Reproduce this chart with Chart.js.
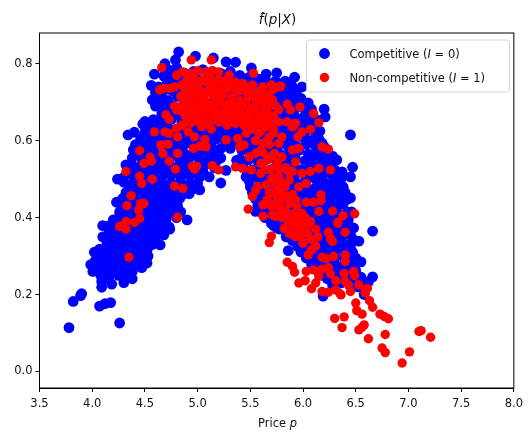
<!DOCTYPE html>
<html>
<head>
<meta charset="utf-8">
<title>f(p|X)</title>
<script src="https://cdn.jsdelivr.net/npm/chart.js@4"></script>
<style>
    html, body { margin: 0; padding: 0; background: #fff; }
    canvas { display: block; }
</style>
</head>
<body>
<canvas id="priceChart" width="528" height="439"></canvas>
<script>
// Ticks and labels
const xTicks = [3.5, 4.0, 4.5, 5.0, 5.5, 6.0, 6.5, 7.0, 7.5, 8.0];
const yTicks = [0.0, 0.2, 0.4, 0.6, 0.8];
const seriesNames = ['Competitive (I = 0)', 'Non-competitive (I = 1)'];

// Blue points, [price, f]
const competitive = [
    // isolated ones and the outline
    [3.78,.114],[3.82,.182],[3.89,.197],[3.90,.202],[4.07,.17],[4.12,.176],[4.175,.179],[4.26,.126],
    [4.09,.219],[4.09,.234],[4.185,.227],[4.30,.231],[4.38,.241],[4.006,.26],[3.986,.278],[4.02,.31],
    [4.07,.303],[4.10,.379],[4.10,.35],[4.645,.329],[4.735,.37],[4.90,.394],[4.52,.282],
    [4.82,.831],[4.79,.81],[4.98,.82],[5.15,.815],[5.27,.805],[5.36,.804],[5.51,.789],[5.65,.773],[5.75,.776],
    [5.92,.765],[5.99,.74],[6.05,.698],[6.20,.682],[6.21,.662],[6.16,.625],[6.45,.615],[6.18,.594],
    [6.32,.55],[6.47,.531],[6.45,.506],[6.37,.519],[6.38,.48],[6.45,.451],[6.32,.446],[6.46,.415],
    [6.48,.373],[6.66,.365],[6.53,.339],[6.44,.329],[6.50,.295],[6.55,.285],[6.66,.246],[6.62,.233],
    [6.56,.23],[6.58,.2],[6.19,.196],[6.23,.241],[5.86,.314],[5.98,.311],[6.15,.285],[6.34,.272],
    [4.69,.80],[4.59,.773],[4.56,.744],[4.57,.706],[4.61,.693],[4.48,.643],[4.34,.615],[4.50,.60],
    [4.39,.576],[4.32,.537],[4.24,.50],[4.43,.485],[4.37,.464],[4.23,.44],[4.26,.415],[4.20,.394],
    [5.22,.49],[5.27,.523],[5.11,.506],[5.02,.472],[4.90,.472],[4.73,.376],[5.37,.549],[5.46,.506],
    [5.55,.416],[5.72,.38],[5.75,.373],[5.84,.35],
    // top of the arch
    [4.72,.785],[4.80,.79],[4.88,.775],[4.96,.78],[5.05,.785],[5.14,.78],[5.22,.775],[5.31,.78],[5.40,.77],[5.49,.765],[5.58,.76],[5.66,.752],[5.74,.755],[5.83,.755],[5.90,.74],
    [4.63,.74],[4.71,.75],[4.80,.745],[4.88,.75],[4.97,.74],[5.05,.745],[5.14,.75],[5.23,.74],[5.32,.745],[5.41,.74],[5.50,.735],[5.58,.73],[5.67,.735],[5.76,.725],[5.85,.73],[5.94,.72],
    [4.64,.71],[4.72,.705],[4.81,.715],[4.90,.705],[4.98,.71],[5.07,.70],[5.16,.71],[5.25,.705],[5.34,.70],[5.43,.71],[5.52,.70],[5.61,.705],[5.70,.695],[5.79,.70],[5.88,.69],[5.97,.70],
    [4.66,.67],[4.74,.675],[4.83,.665],[4.92,.675],[5.01,.67],[5.10,.665],[5.19,.675],[5.28,.665],[5.37,.67],[5.46,.665],[5.55,.675],[5.64,.665],[5.73,.67],[5.82,.66],[5.91,.67],[6.00,.66],[6.09,.665],
    [4.54,.64],[4.62,.635],[4.71,.64],[4.80,.63],[4.89,.64],[4.98,.635],[5.07,.63],[5.16,.64],[5.25,.635],[5.34,.63],[5.43,.64],[5.52,.63],[5.61,.635],[5.70,.64],[5.79,.63],[5.88,.635],[5.97,.63],[6.06,.635],[6.12,.64],
    [4.46,.605],[4.55,.60],[4.64,.61],[4.73,.60],[4.82,.605],[4.91,.60],[5.00,.61],[5.09,.60],[5.18,.605],[5.27,.595],[5.36,.60],[5.45,.605],[5.54,.60],[5.63,.61],[5.72,.60],[5.81,.605],[5.90,.60],[5.99,.61],[6.08,.60],[6.15,.605],
    // second pass over the arch, between the rows above
    [4.68,.768],[4.76,.765],[4.84,.762],[4.92,.765],[5.00,.76],[5.10,.765],[5.18,.76],[5.27,.762],[5.36,.758],[5.45,.752],[5.54,.748],[5.62,.745],[5.70,.745],[5.79,.742],[5.88,.75],
    [4.60,.725],[4.67,.728],[4.76,.73],[4.84,.728],[4.93,.725],[5.01,.725],[5.10,.728],[5.19,.725],[5.28,.725],[5.37,.72],[5.46,.72],[5.54,.715],[5.63,.72],[5.72,.715],[5.81,.715],[5.90,.71],[5.98,.71],
    [4.60,.69],[4.68,.69],[4.77,.69],[4.86,.69],[4.94,.69],[5.03,.685],[5.12,.688],[5.21,.69],[5.30,.685],[5.39,.688],[5.48,.685],[5.57,.688],[5.66,.685],[5.75,.685],[5.84,.68],[5.93,.685],[6.02,.68],[6.08,.682],
    [4.50,.65],[4.58,.655],[4.66,.652],[4.75,.655],[4.85,.65],[4.94,.655],[5.03,.65],[5.12,.652],[5.21,.655],[5.31,.65],[5.41,.655],[5.50,.65],[5.58,.652],[5.67,.65],[5.76,.655],[5.86,.65],[5.95,.65],[6.04,.648],[6.13,.655],
    [4.40,.622],[4.50,.622],[4.58,.62],[4.67,.622],[4.76,.62],[4.85,.622],[4.94,.618],[5.03,.62],[5.12,.62],[5.21,.62],[5.30,.618],[5.39,.62],[5.48,.618],[5.57,.62],[5.66,.622],[5.75,.618],[5.84,.62],[5.93,.618],[6.02,.62],[6.12,.62],
    [4.41,.59],[4.50,.588],[4.59,.588],[4.68,.585],[4.77,.588],[4.86,.585],[4.95,.59],[5.04,.588],[5.13,.585],[5.22,.58],[5.31,.58],[5.40,.588],[5.49,.585],[5.58,.59],[5.67,.588],[5.76,.585],[5.85,.588],[5.94,.585],[6.03,.59],[6.12,.585],[6.20,.585],
    // left leg
    [4.43,.57],[4.52,.575],[4.61,.565],[4.70,.57],[4.79,.575],[4.88,.565],[4.97,.57],[5.06,.575],[5.15,.565],[5.22,.555],
    [4.37,.54],[4.46,.535],[4.55,.54],[4.64,.535],[4.73,.54],[4.82,.535],[4.91,.54],[5.00,.535],[5.09,.54],[5.16,.53],
    [4.30,.505],[4.39,.51],[4.48,.505],[4.57,.51],[4.66,.505],[4.75,.51],[4.84,.505],[4.93,.51],[5.02,.505],
    [4.36,.48],[4.45,.475],[4.54,.48],[4.63,.475],[4.72,.48],[4.81,.475],[4.88,.48],[4.96,.475],
    [4.29,.45],[4.38,.445],[4.47,.45],[4.56,.445],[4.65,.45],[4.74,.445],[4.83,.45],
    [4.32,.42],[4.41,.425],[4.50,.42],[4.59,.425],[4.68,.42],[4.77,.42],[4.84,.415],
    [4.26,.39],[4.35,.395],[4.44,.39],[4.53,.395],[4.62,.39],[4.70,.395],[4.80,.40],
    [4.16,.365],[4.24,.36],[4.33,.365],[4.42,.36],[4.51,.365],[4.60,.36],[4.68,.355],
    [4.14,.335],[4.22,.33],[4.31,.335],[4.40,.33],[4.49,.335],[4.57,.33],
    [4.10,.305],[4.18,.30],[4.27,.305],[4.36,.30],[4.45,.305],[4.53,.30],
    [4.05,.275],[4.13,.27],[4.22,.275],[4.31,.27],[4.40,.275],[4.47,.27],
    [4.08,.25],[4.16,.245],[4.25,.25],[4.33,.245],
    // second pass over the left leg
    [4.38,.555],[4.47,.555],[4.56,.552],[4.65,.555],[4.74,.555],[4.83,.552],[4.92,.555],[5.01,.555],[5.10,.552],[5.18,.548],
    [4.34,.522],[4.43,.522],[4.52,.52],[4.61,.522],[4.70,.52],[4.79,.522],[4.88,.52],[4.97,.522],[5.05,.52],
    [4.30,.492],[4.39,.49],[4.48,.492],[4.57,.49],[4.66,.492],[4.75,.49],[4.84,.492],[4.93,.49],[5.00,.488],
    [4.32,.465],[4.41,.462],[4.50,.465],[4.59,.462],[4.68,.465],[4.77,.462],[4.86,.46],[4.92,.462],
    [4.28,.435],[4.37,.432],[4.46,.435],[4.55,.432],[4.64,.435],[4.73,.432],[4.81,.43],
    [4.26,.405],[4.35,.408],[4.44,.405],[4.53,.408],[4.62,.405],[4.71,.408],[4.80,.41],
    [4.14,.378],[4.22,.375],[4.31,.378],[4.40,.375],[4.49,.378],[4.58,.375],[4.67,.375],
    [4.12,.348],[4.20,.345],[4.29,.348],[4.38,.345],[4.47,.348],[4.56,.345],[4.60,.342],
    [4.07,.318],[4.16,.315],[4.25,.318],[4.34,.315],[4.43,.318],[4.52,.315],
    [4.03,.288],[4.11,.285],[4.20,.288],[4.29,.285],[4.38,.288],[4.46,.285],
    [4.04,.262],[4.12,.258],[4.21,.26],[4.30,.258],[4.38,.26],
    // right leg
    [5.43,.53],[5.52,.525],[5.61,.535],[5.70,.525],[5.79,.53],[5.88,.535],[5.97,.525],[6.06,.53],[6.15,.535],[6.24,.53],[6.30,.525],
    [5.42,.575],[5.51,.57],[5.60,.565],[5.69,.575],[5.78,.565],[5.87,.57],[5.96,.575],[6.05,.565],[6.14,.57],[6.22,.565],[6.28,.56],
    [5.49,.495],[5.58,.50],[5.67,.49],[5.76,.495],[5.85,.50],[5.94,.49],[6.03,.495],[6.12,.50],[6.21,.49],[6.30,.495],[6.36,.50],
    [5.52,.465],[5.61,.46],[5.70,.465],[5.79,.46],[5.88,.465],[5.97,.46],[6.06,.465],[6.15,.46],[6.24,.465],[6.33,.46],[6.40,.465],
    [5.57,.43],[5.66,.435],[5.75,.43],[5.84,.435],[5.93,.43],[6.02,.435],[6.11,.43],[6.20,.435],[6.29,.43],[6.38,.435],
    [5.64,.40],[5.73,.405],[5.82,.40],[5.91,.405],[6.00,.40],[6.09,.405],[6.18,.40],[6.27,.405],[6.36,.40],[6.43,.395],
    [5.78,.37],[5.87,.375],[5.96,.37],[6.05,.375],[6.14,.37],[6.23,.375],[6.32,.37],[6.41,.375],
    [5.90,.34],[5.99,.345],[6.08,.34],[6.17,.345],[6.26,.34],[6.35,.345],[6.47,.345],
    [6.04,.31],[6.13,.315],[6.22,.31],[6.31,.315],[6.40,.31],[6.47,.31],
    [6.08,.28],[6.22,.285],[6.30,.28],[6.40,.27],[6.47,.28],
    [6.16,.25],[6.30,.255],[6.38,.25],[6.47,.245],[6.55,.245],[6.28,.225],[6.36,.23],[6.46,.225],[6.52,.22],
    // second pass over the right leg
    [5.40,.552],[5.48,.55],[5.57,.548],[5.66,.552],[5.75,.548],[5.84,.55],[5.93,.552],[6.02,.548],[6.11,.55],[6.20,.552],[6.28,.545],
    [5.47,.512],[5.56,.51],[5.65,.512],[5.74,.51],[5.83,.512],[5.92,.51],[6.01,.512],[6.10,.51],[6.19,.512],[6.28,.51],[6.36,.512],
    [5.50,.48],[5.59,.48],[5.68,.478],[5.77,.48],[5.86,.478],[5.95,.48],[6.04,.478],[6.13,.48],[6.22,.478],[6.31,.48],[6.38,.478],
    [5.55,.448],[5.64,.45],[5.73,.448],[5.82,.45],[5.91,.448],[6.00,.45],[6.09,.448],[6.18,.45],[6.27,.448],[6.36,.45],[6.42,.448],
    [5.60,.415],[5.69,.418],[5.78,.415],[5.87,.418],[5.96,.415],[6.05,.418],[6.14,.415],[6.23,.418],[6.32,.415],[6.42,.415],
    [5.70,.385],[5.79,.388],[5.88,.385],[5.97,.388],[6.06,.385],[6.15,.388],[6.24,.385],[6.33,.388],[6.42,.385],
    [5.85,.355],[5.94,.358],[6.03,.355],[6.12,.358],[6.21,.355],[6.30,.358],[6.39,.355],[6.45,.355],
    [5.95,.325],[6.04,.328],[6.13,.325],[6.22,.328],[6.31,.325],[6.40,.328],[6.45,.325],
    [6.03,.295],[6.12,.298],[6.21,.295],[6.30,.298],[6.39,.295],[6.47,.295],
    [6.12,.265],[6.21,.268],[6.30,.265],[6.39,.262],[6.50,.262]
];

// Red points, [price, f]
const nonCompetitive = [
    // low right tail
    [6.94,.022],[7.01,.051],[7.12,.106],[7.10,.104],[7.21,.089],[6.78,.049],[6.75,.061],[6.78,.096],[6.62,.085],
    [6.53,.108],[6.56,.115],[6.58,.121],[6.37,.114],[6.30,.138],[6.39,.142],[6.81,.137],[6.77,.143],[6.73,.149],
    [6.56,.149],[6.51,.158],[6.50,.178],[6.66,.167],[6.63,.184],[6.61,.216],[6.59,.205],[6.53,.225],[6.45,.208],
    [6.43,.225],[6.40,.234],[6.39,.255],[6.48,.26],[6.49,.249],[6.36,.199],[6.35,.202],[6.31,.212],[6.24,.206],
    [6.18,.208],[6.08,.215],[6.12,.23],[6.15,.247],[6.02,.236],[5.96,.23],[6.03,.26],[6.10,.264],[6.18,.266],
    [6.24,.27],[6.26,.254],[6.31,.236],[5.92,.258],[5.90,.273],[5.85,.284],[6.05,.303],[6.18,.297],[6.22,.294],
    [6.29,.299],[6.40,.303],[6.40,.286],[6.40,.362],[6.28,.338],[6.24,.362],[6.33,.385],[6.26,.346],[6.12,.326],
    [6.08,.316],[6.00,.333],[6.09,.342],[6.04,.359],[5.92,.351],[5.87,.359],[5.82,.372],[6.00,.377],[6.07,.39],
    [5.95,.381],[5.70,.352],[5.68,.335],
    // low left
    [4.349,.297],[4.26,.377],[4.32,.37],[4.32,.39],[4.40,.387],
    // scattered over the left leg
    [4.66,.79],[4.94,.81],[5.13,.81],[5.53,.775],[4.64,.732],[4.74,.736],[4.68,.736],[4.70,.667],[4.73,.655],
    [4.59,.623],[4.69,.623],[4.80,.632],[4.73,.619],[4.81,.61],[4.97,.61],[4.91,.623],[5.13,.63],[5.04,.636],
    [5.27,.602],[5.07,.603],[5.08,.584],[5.02,.586],[4.96,.58],[4.72,.591],[4.65,.589],[4.67,.567],[4.81,.567],
    [4.45,.574],[4.55,.557],[4.56,.547],[4.49,.541],[4.73,.547],[4.79,.526],[4.95,.534],[4.99,.534],[4.97,.526],
    [5.14,.535],[5.20,.524],[4.32,.52],[4.45,.508],[4.47,.489],[4.57,.50],[4.78,.482],[4.86,.476],[4.37,.457],
    [4.33,.431],[4.46,.437],[4.49,.437],[4.44,.42],[4.45,.398],[4.81,.401],
    // right of the hole
    [5.36,.532],[5.43,.528],[5.51,.524],[5.60,.515],[5.60,.541],[5.49,.558],[5.55,.567],[5.40,.584],[5.44,.589],
    [5.38,.606],[5.46,.619],[5.62,.593],[5.73,.567],[5.69,.524],[5.73,.506],[5.57,.481],[5.65,.485],[5.52,.455],
    [5.55,.47],[5.62,.433],[5.66,.446],[5.48,.422],[5.62,.404],[5.71,.407],[5.74,.437],
    [5.79,.742],[5.71,.732],[5.71,.706],[5.77,.681],[5.85,.695],[5.88,.68],[5.97,.688],[6.10,.671],[6.15,.647],
    [6.07,.629],[5.99,.623],[5.93,.645],[5.85,.649],[5.77,.649],[5.90,.636],[5.95,.61],[5.80,.61],[5.77,.593],
    [5.96,.58],[5.90,.576],[6.18,.584],[6.24,.578],[5.93,.545],[5.80,.558],[6.26,.524],[6.15,.528],[6.07,.52],
    [6.03,.489],[5.96,.48],[5.87,.498],[5.77,.506],[6.17,.459],[6.10,.44],[6.17,.444],[6.15,.416],[5.99,.411],
    [6.28,.417],[6.38,.405],[6.33,.388],[6.49,.41],[6.07,.39],[5.95,.377],[5.84,.398],[5.74,.403],[5.87,.437],
    [5.80,.463],[5.99,.515],[5.93,.446],[5.73,.463],
    // dense block on top
    [4.80,.77],[4.86,.779],[4.93,.775],[5.00,.782],[5.08,.779],[5.14,.782],[5.20,.779],[5.30,.77],[5.43,.749],[5.62,.74],[5.77,.74],
    [4.90,.76],[4.97,.762],[5.05,.758],[5.12,.762],[5.20,.76],[5.28,.758],[5.36,.752],[5.44,.73],[5.52,.745],[5.70,.745],
    [4.78,.74],[4.85,.745],[4.92,.75],[5.00,.745],[5.08,.752],[5.16,.748],[5.24,.752],[5.32,.745],[5.40,.73],[5.48,.735],[5.56,.728],[5.64,.72],
    [4.88,.73],[4.96,.732],[5.04,.728],[5.12,.735],[5.20,.732],[5.28,.735],[5.36,.728],[5.52,.715],[5.60,.715],[5.68,.712],
    [4.84,.715],[4.92,.72],[5.00,.712],[5.08,.722],[5.16,.715],[5.24,.72],[5.32,.712],[5.40,.705],[5.48,.712],[5.56,.702],[5.64,.695],[5.70,.70],
    [4.90,.705],[4.98,.702],[5.06,.705],[5.14,.702],[5.22,.705],[5.30,.698],[5.38,.695],[5.46,.698],[5.54,.688],[5.62,.682],[5.74,.69],
    [4.78,.69],[4.86,.695],[4.94,.688],[5.02,.695],[5.10,.69],[5.18,.695],[5.26,.688],[5.34,.68],[5.42,.688],[5.50,.68],[5.58,.672],[5.66,.68],[5.72,.665],
    [4.84,.678],[4.92,.68],[5.00,.678],[5.08,.68],[5.16,.678],[5.24,.675],[5.32,.672],[5.40,.675],[5.48,.668],[5.56,.66],[5.64,.66],[5.72,.65],
    [4.80,.68],[4.88,.665],[4.96,.67],[5.04,.662],[5.12,.67],[5.20,.665],[5.28,.66],[5.36,.665],[5.44,.66],[5.52,.655],[5.60,.65],[5.68,.64],
    [4.90,.652],[4.98,.655],[5.06,.652],[5.15,.655],[5.24,.652],[5.32,.652],[5.40,.65],[5.48,.648],[5.56,.64],[5.64,.635],[5.72,.628],
    [4.85,.64],[4.93,.645],[5.00,.65],[5.10,.645],[5.20,.648],[5.28,.64],[5.36,.645],[5.44,.64],[5.52,.63],[5.60,.625],[5.68,.61],
    // red band running down right
    [5.55,.60],[5.62,.57],[5.68,.59],[5.76,.545],[5.66,.55],[5.84,.53],[5.72,.49],[5.83,.48],[5.90,.52],
    [5.76,.45],[5.83,.42],[5.90,.46],[5.92,.41],[6.03,.44],[5.78,.42],[5.86,.39],[5.90,.37],[5.97,.35],[6.02,.40],[6.12,.37],
    [5.58,.62],[5.66,.60],[5.72,.62],[5.60,.575],[5.70,.56],[5.74,.535],[5.64,.525],[5.70,.50],[5.78,.525],[5.80,.49],
    [5.86,.52],[5.76,.475],[5.68,.465],[5.84,.455],[5.78,.44],[5.70,.43],[5.86,.41],[5.80,.40],[5.94,.43],[5.98,.395],
    [5.90,.39],[5.95,.365],[6.04,.38],[5.98,.37],[6.06,.345],[6.14,.35]
];

function drawSegments(ctx, segments, x, y, size, align) {
    // segments: [text, italic]; the mixed fonts are why this is by hand
    let width = 0;
    segments.forEach(function(seg) {
        ctx.font = (seg[1] ? 'italic ' : '') + size + 'px "DejaVu Sans"';
        width += ctx.measureText(seg[0]).width;
    });
    let cursor = align === 'center' ? x - width / 2 : x;
    ctx.textAlign = 'left';
    ctx.textBaseline = 'alphabetic';
    segments.forEach(function(seg) {
        ctx.font = (seg[1] ? 'italic ' : '') + size + 'px "DejaVu Sans"';
        ctx.fillText(seg[0], cursor, y);
        cursor += ctx.measureText(seg[0]).width;
    });
}

// Frame, title, x label and legend
const frameAndText = {
    id: 'frameAndText',
    afterDatasetsDraw: function(chart) {
        const ctx = chart.ctx;
        const area = chart.chartArea;
        ctx.save();

        ctx.strokeStyle = '#000';
        ctx.lineWidth = 1;
        ctx.strokeRect(area.left, area.top, area.right - area.left, area.bottom - area.top);

        ctx.fillStyle = '#111';
        drawSegments(ctx, [['f\u0302', true], ['(', false], ['p', true], ['|', false], ['X', true], [')', false]],
            277.5, 24, 13.5, 'center');
        drawSegments(ctx, [['Price ', false], ['p', true]], 277.5, 427, 11.5, 'center');

        // legend box
        ctx.beginPath();
        ctx.roundRect(306.5, 40, 203, 52, 3);
        ctx.fillStyle = 'rgba(255,255,255,0.8)';
        ctx.fill();
        ctx.strokeStyle = 'rgba(204,204,204,0.8)';
        ctx.stroke();

        ctx.fillStyle = '#0000ff';
        ctx.beginPath();
        ctx.arc(324.5, 53.5, 5.4, 0, Math.PI * 2);
        ctx.fill();
        ctx.fillStyle = '#ff0000';
        ctx.beginPath();
        ctx.arc(324.5, 77.5, 4.7, 0, Math.PI * 2);
        ctx.fill();

        ctx.fillStyle = '#111';
        const parts0 = seriesNames[0].split('I');
        const parts1 = seriesNames[1].split('I');
        drawSegments(ctx, [[parts0[0], false], ['I', true], [parts0[1], false]], 349.5, 57.5, 11.5, 'left');
        drawSegments(ctx, [[parts1[0], false], ['I', true], [parts1[1], false]], 349.5, 82, 11.5, 'left');
        ctx.restore();
    }
};

function toPoints(rows) {
    return rows.map(function(r) { return { x: r[0], y: r[1] }; });
}

new Chart(document.getElementById('priceChart'), {
    type: 'scatter',
    data: {
        datasets: [
            {
                label: seriesNames[0],
                data: toPoints(competitive),
                backgroundColor: '#0000ff',
                pointRadius: 5.4,
                pointBorderWidth: 0,
                order: 2
            },
            {
                label: seriesNames[1],
                data: toPoints(nonCompetitive),
                backgroundColor: '#ff0000',
                pointRadius: 4.7,
                pointBorderWidth: 0,
                order: 1
            }
        ]
    },
    options: {
        responsive: false,
        animation: false,
        layout: { padding: { top: 33, right: 12, bottom: 0, left: 0 } },
        plugins: {
            legend: { display: false },
            tooltip: { enabled: false }
        },
        scales: {
            x: {
                type: 'linear',
                min: 3.5,
                max: 8.0,
                afterFit: function(scale) { scale.height = 51; },
                afterBuildTicks: function(scale) {
                    scale.ticks = xTicks.map(function(v) { return { value: v }; });
                },
                border: { display: true, color: '#000', width: 1 },
                grid: { drawOnChartArea: false, drawTicks: true, tickLength: 4, tickColor: '#000' },
                ticks: {
                    maxRotation: 0,
                    autoSkip: false,
                    padding: 5,
                    color: '#111',
                    font: { family: '"DejaVu Sans"', size: 11.5 },
                    callback: function(v) { return v.toFixed(1); }
                }
            },
            y: {
                type: 'linear',
                min: -0.043,
                max: 0.88,
                afterFit: function(scale) { scale.width = 39.5; },
                afterBuildTicks: function(scale) {
                    scale.ticks = yTicks.map(function(v) { return { value: v }; });
                },
                border: { display: true, color: '#000', width: 1 },
                grid: { drawOnChartArea: false, drawTicks: true, tickLength: 4, tickColor: '#000' },
                ticks: {
                    autoSkip: false,
                    padding: 3,
                    color: '#111',
                    font: { family: '"DejaVu Sans"', size: 11.5 },
                    callback: function(v) { return v.toFixed(1); }
                }
            }
        }
    },
    plugins: [frameAndText]
});
</script>
</body>
</html>
